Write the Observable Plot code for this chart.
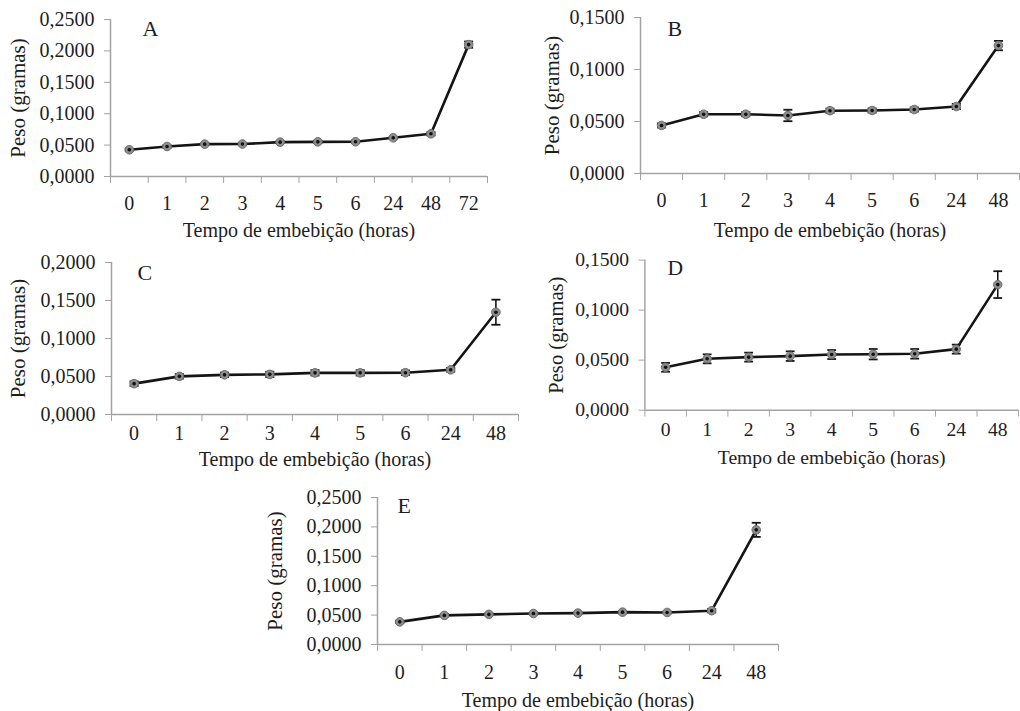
<!DOCTYPE html>
<html>
<head>
<meta charset="utf-8">
<script src="https://cdn.jsdelivr.net/npm/d3@7"></script>
<script src="https://cdn.jsdelivr.net/npm/@observablehq/plot@0.6"></script>
<style>
  html, body { margin: 0; padding: 0; background: #fff; }
  #root { position: relative; width: 1020px; height: 711px; overflow: hidden; background: #fff; }
  #root > div { position: absolute; }
  svg { overflow: visible; font-family: "Liberation Serif", "Times New Roman", "DejaVu Serif", serif; }
  svg text { font-family: "Liberation Serif", "Times New Roman", "DejaVu Serif", serif; }
</style>
</head>
<body>
<div id="root"></div>
<script>
// ---- data ----
const hoursA = ["0", "1", "2", "3", "4", "5", "6", "24", "48", "72"];
const hoursB = ["0", "1", "2", "3", "4", "5", "6", "24", "48"];
const hoursC = ["0", "1", "2", "3", "4", "5", "6", "24", "48"];
const hoursD = ["0", "1", "2", "3", "4", "5", "6", "24", "48"];
const hoursE = ["0", "1", "2", "3", "4", "5", "6", "24", "48"];

const pesoA = [0.0425, 0.0478, 0.0515, 0.0517, 0.0547, 0.0552, 0.0553, 0.0616, 0.0680, 0.2100];
const errA  = [0.0015, 0.0020, 0.0015, 0.0015, 0.0015, 0.0020, 0.0020, 0.0015, 0.0025, 0.0050];

const pesoB = [0.0462, 0.0570, 0.0570, 0.0558, 0.0604, 0.0606, 0.0615, 0.0644, 0.1230];
const errB  = [0.0020, 0.0020, 0.0020, 0.0055, 0.0020, 0.0020, 0.0020, 0.0025, 0.0045];

const pesoC = [0.0406, 0.0502, 0.0522, 0.0528, 0.0548, 0.0548, 0.0550, 0.0588, 0.1346];
const errC  = [0.0030, 0.0030, 0.0030, 0.0035, 0.0035, 0.0035, 0.0030, 0.0025, 0.0165];

const pesoD = [0.0428, 0.0513, 0.0530, 0.0540, 0.0556, 0.0559, 0.0563, 0.0610, 0.1255];
const errD  = [0.0044, 0.0045, 0.0045, 0.0048, 0.0045, 0.0052, 0.0048, 0.0045, 0.0134];

const pesoE = [0.0385, 0.0495, 0.0512, 0.0527, 0.0534, 0.0550, 0.0545, 0.0575, 0.1950];
const errE  = [0.0020, 0.0020, 0.0015, 0.0015, 0.0015, 0.0020, 0.0015, 0.0030, 0.0120];

const yTicksA = [0, 0.05, 0.10, 0.15, 0.20, 0.25];
const yTicksB = [0, 0.05, 0.10, 0.15];
const yTicksC = [0, 0.05, 0.10, 0.15, 0.20];
const yTicksD = [0, 0.05, 0.10, 0.15];
const yTicksE = [0, 0.05, 0.10, 0.15, 0.20, 0.25];

const panelLabels = ["A", "B", "C", "D", "E"];
const xTitle = "Tempo de embebição (horas)";
const yTitle = "Peso (gramas)";

// ---- layout ----
const layout = [
  {left: 0,   top: 0,   width: 510, height: 240, mL: 110, mR: 23, mT: 19, mB: 64, labPad: 19, titleDy: 54, yTitleDx: -92, letterDx: 32, letterDy: 1},
  {left: 510, top: 0,   width: 510, height: 240, mL: 130, mR: 1,  mT: 17, mB: 67, labPad: 19, titleDy: 57, yTitleDx: -88, letterDx: 27, letterDy: 3},
  {left: 0,   top: 240, width: 520, height: 240, mL: 111, mR: 2,  mT: 22, mB: 66, labPad: 11, titleDy: 45, yTitleDx: -93, letterDx: 26, letterDy: 2},
  {left: 510, top: 240, width: 520, height: 240, mL: 137, mR: 2,  mT: 20, mB: 67, labPad: 12, titleDy: 49, yTitleDx: -90, letterDx: 23, letterDy: 0},
  {left: 260, top: 470, width: 520, height: 241, mL: 117, mR: 2,  mT: 27, mB: 67, labPad: 20, titleDy: 56, yTitleDx: -102, letterDx: 20, letterDy: 0}
];

const panels = [
  {cats: hoursA, vals: pesoA, errs: errA, ticks: yTicksA},
  {cats: hoursB, vals: pesoB, errs: errB, ticks: yTicksB},
  {cats: hoursC, vals: pesoC, errs: errC, ticks: yTicksC},
  {cats: hoursD, vals: pesoD, errs: errD, ticks: yTicksD},
  {cats: hoursE, vals: pesoE, errs: errE, ticks: yTicksE}
];

const serif = '"Liberation Serif", "Times New Roman", serif';
const gray = "#a3a3a3";
const ink = "#1e1e1e";
const fmt = d => d3.format(".4f")(d).replace(".", ",");
const capSymbol = {
  draw(context, size) {
    const w = Math.sqrt(size / Math.PI);
    context.moveTo(-w, 0);
    context.lineTo(w, 0);
  }
};

const root = document.getElementById("root");

panels.forEach((p, k) => {
  const L = layout[k];
  const n = p.cats.length;
  const rows = p.cats.map((c, i) => ({pos: i + 0.5, v: p.vals[i], lo: p.vals[i] - p.errs[i], hi: p.vals[i] + p.errs[i]}));
  const ymax = p.ticks[p.ticks.length - 1];
  const chart = Plot.plot({
    width: L.width,
    height: L.height,
    marginLeft: L.mL,
    marginRight: L.mR,
    marginTop: L.mT,
    marginBottom: L.mB,
    style: {fontFamily: serif, background: "transparent", color: ink},
    x: {domain: [0, n]},
    y: {domain: [0, ymax]},
    marks: [
      Plot.ruleY([0], {stroke: gray, strokeWidth: 1.5}),
      Plot.ruleX([0], {stroke: gray, strokeWidth: 1.5}),
      Plot.axisY(p.ticks, {tickSize: 6, tickPadding: 10, tickFormat: fmt, stroke: gray, fill: ink, fontSize: 20, label: null}),
      Plot.axisX(d3.range(n + 1), {tickSize: 7, tickFormat: () => "", stroke: gray, label: null}),
      Plot.axisX(rows.map(r => r.pos), {tickSize: 0, tickPadding: L.labPad, tickFormat: d => p.cats[Math.floor(d)], fill: ink, fontSize: 20, label: null}),
      Plot.line(rows, {x: "pos", y: "v", stroke: "#141414", strokeWidth: 2.6}),
      Plot.ruleX(rows, {x: "pos", y1: "lo", y2: "hi", stroke: "#141414", strokeWidth: 1.6}),
      Plot.dot(rows, {x: "pos", y: "lo", symbol: capSymbol, r: 4.5, stroke: "#141414", strokeWidth: 1.8, fill: "none"}),
      Plot.dot(rows, {x: "pos", y: "hi", symbol: capSymbol, r: 4.5, stroke: "#141414", strokeWidth: 1.8, fill: "none"}),
      Plot.dot(rows, {x: "pos", y: "v", r: 4.3, fill: "#8c8c8c", stroke: "#6e6e6e", strokeWidth: 1}),
      Plot.dot(rows, {x: "pos", y: "v", r: 1.8, fill: "#111"}),
      Plot.text([xTitle], {text: d => d, frameAnchor: "bottom", dy: L.titleDy, fontSize: 20, fontFamily: serif, fill: ink, lineAnchor: "middle"}),
      Plot.text([yTitle], {text: d => d, frameAnchor: "left", dx: L.yTitleDx, rotate: -90, fontSize: 21, fontFamily: serif, fontWeight: "normal", fill: ink, textAnchor: "middle", lineAnchor: "middle"}),
      Plot.text([panelLabels[k]], {text: d => d, frameAnchor: "top-left", dx: L.letterDx, dy: L.letterDy, fontSize: 22, fontFamily: serif, fill: ink, textAnchor: "start", lineAnchor: "top"})
    ]
  });
  const holder = document.createElement("div");
  holder.style.left = L.left + "px";
  holder.style.top = L.top + "px";
  holder.appendChild(chart);
  root.appendChild(holder);
});
</script>
</body>
</html>
